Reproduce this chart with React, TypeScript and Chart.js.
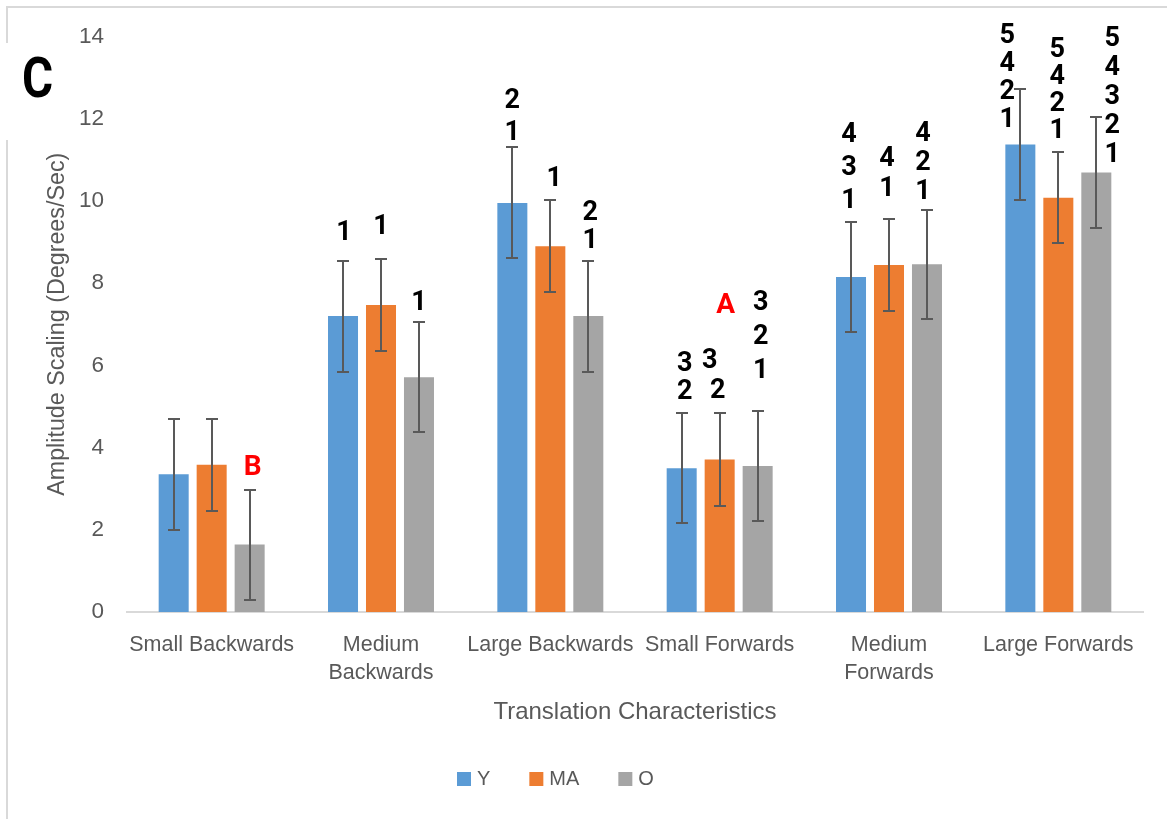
import React, { useEffect, useRef } from "react";
import { Chart, registerables } from "chart.js";

Chart.register(...registerables);

// ---------- data ----------
const categories: (string | string[])[] = [
  "Small Backwards",
  ["Medium", "Backwards"],
  "Large Backwards",
  "Small Forwards",
  ["Medium", "Forwards"],
  "Large Forwards",
];
const seriesNames = ["Y", "MA", "O"];
const yValues = [3.35, 7.2, 9.95, 3.5, 8.15, 11.37];
const maValues = [3.58, 7.47, 8.9, 3.71, 8.44, 10.08];
const oValues = [1.64, 5.71, 7.2, 3.55, 8.46, 10.69];
const yErrors = [1.35, 1.35, 1.35, 1.34, 1.34, 1.35];
const maErrors = [1.12, 1.12, 1.12, 1.12, 1.11, 1.11];
const oErrors = [1.34, 1.34, 1.35, 1.34, 1.33, 1.35];
const yAxisMin = 0;
const yAxisMax = 14;
const yAxisStep = 2;
const xAxisTitle = "Translation Characteristics";
const yAxisTitle = "Amplitude Scaling (Degrees/Sec)";
const panelLetter = "C";

// significance markers: category, series, lines (top to bottom), value of bottom line
const sigLabels = [
  { cat: 1, series: 0, lines: ["1"], base: 9.22, gap: 30, dx: 1 },
  { cat: 1, series: 1, lines: ["1"], base: 9.36, gap: 30, dx: 0 },
  { cat: 1, series: 2, lines: ["1"], base: 7.5, gap: 30, dx: 0 },
  { cat: 2, series: 0, lines: ["2", "1"], base: 11.65, gap: 32, dx: 0 },
  { cat: 2, series: 1, lines: ["1"], base: 10.53, gap: 30, dx: 4 },
  { cat: 2, series: 2, lines: ["2", "1"], base: 9.02, gap: 28, dx: 2 },
  { cat: 3, series: 0, lines: ["3", "2"], base: 5.34, gap: 28, dx: 3 },
  { cat: 3, series: 1, lines: ["3", "2"], base: 5.37, gap: 30, dx: -2, dxs: [-8, 0] },
  { cat: 3, series: 2, lines: ["3", "2", "1"], base: 5.85, gap: 34, dx: 3 },
  { cat: 4, series: 0, lines: ["4", "3", "1"], base: 9.99, gap: 33, dx: -2 },
  { cat: 4, series: 1, lines: ["4", "1"], base: 10.28, gap: 30, dx: -2 },
  { cat: 4, series: 2, lines: ["4", "2", "1"], base: 10.2, gap: 29, dx: -4 },
  { cat: 5, series: 0, lines: ["5", "4", "2", "1"], base: 11.97, gap: 28, dx: -13 },
  { cat: 5, series: 1, lines: ["5", "4", "2", "1"], base: 11.7, gap: 27, dx: -1 },
  { cat: 5, series: 2, lines: ["5", "4", "3", "2", "1"], base: 11.12, gap: 29, dx: 16 },
];
const letterLabels = [
  { cat: 0, series: 2, text: "B", value: 3.51, dx: 3 },
  { cat: 3, series: 1, text: "A", value: 7.45, dx: 6 },
];

const seriesValues = [yValues, maValues, oValues];
const seriesErrors = [yErrors, maErrors, oErrors];
const seriesColors = ["#5b9bd5", "#ed7d31", "#a5a5a5"];
const textGray = "#595959";
const FONT = "'Liberation Sans', Arial, sans-serif";

const overlayPlugin = {
  id: "overlay",
  afterDatasetsDraw(chart: any) {
    const ctx = chart.ctx as CanvasRenderingContext2D;
    const ys = chart.scales.y;
    // error bars
    seriesErrors.forEach((errs, di) => {
      const meta = chart.getDatasetMeta(di);
      meta.data.forEach((bar: any, i: number) => {
        const v = seriesValues[di][i];
        const e = errs[i];
        const x = Math.round(bar.x);
        const top = Math.round(ys.getPixelForValue(v + e));
        const bot = Math.round(ys.getPixelForValue(v - e));
        ctx.save();
        ctx.strokeStyle = textGray;
        ctx.lineWidth = 2;
        ctx.beginPath();
        ctx.moveTo(x, top);
        ctx.lineTo(x, bot);
        ctx.moveTo(x - 6, top);
        ctx.lineTo(x + 6, top);
        ctx.moveTo(x - 6, bot);
        ctx.lineTo(x + 6, bot);
        ctx.stroke();
        ctx.restore();
      });
    });
    // significance digits
    ctx.save();
    ctx.fillStyle = "#000";
    ctx.font = "bold 27px Roboto, 'DejaVu Sans', sans-serif";
    ctx.textAlign = "center";
    ctx.textBaseline = "middle";
    sigLabels.forEach((s: any) => {
      const bar = chart.getDatasetMeta(s.series).data[s.cat];
      const baseY = ys.getPixelForValue(s.base);
      const n = s.lines.length;
      s.lines.forEach((t: string, i: number) => {
        const idx = n - 1 - i;
        const x = bar.x + s.dx + (s.dxs ? s.dxs[i] : 0);
        const y = baseY - idx * s.gap;
        ctx.fillText(t, x, y);
      });
    });
    // red letters
    ctx.fillStyle = "#ff0000";
    ctx.font = "bold 28px Roboto, 'DejaVu Sans', sans-serif";
    letterLabels.forEach((l) => {
      const bar = chart.getDatasetMeta(l.series).data[l.cat];
      ctx.fillText(l.text, bar.x + l.dx, ys.getPixelForValue(l.value));
    });
    ctx.restore();
  },
  afterDraw(chart: any) {
    // legend
    const ctx = chart.ctx as CanvasRenderingContext2D;
    const area = chart.chartArea;
    ctx.save();
    ctx.font = `20px ${FONT}`;
    ctx.textBaseline = "middle";
    ctx.textAlign = "left";
    let x = area.left + 330;
    const yc = 779;
    seriesNames.forEach((name, i) => {
      ctx.fillStyle = seriesColors[i];
      ctx.fillRect(x, yc - 7, 14, 14);
      ctx.fillStyle = textGray;
      ctx.fillText(name, x + 20, yc);
      x += 20 + ctx.measureText(name).width + 39;
    });
    ctx.restore();
  },
};

export default function App() {
  const ref = useRef<HTMLCanvasElement>(null);
  useEffect(() => {
    const chart = new Chart(ref.current as HTMLCanvasElement, {
      type: "bar",
      data: {
        labels: categories,
        datasets: seriesNames.map((name, i) => ({
          label: name,
          data: seriesValues[i],
          backgroundColor: seriesColors[i],
          borderWidth: 0,
          categoryPercentage: 0.673,
          barPercentage: 0.79,
        })),
      },
      options: {
        responsive: false,
        animation: false,
        devicePixelRatio: 1,
        layout: { padding: { left: 30, right: 24, top: 33, bottom: 92 } },
        plugins: {
          legend: { display: false },
          tooltip: { enabled: false },
        },
        scales: {
          x: {
            grid: { display: false, drawTicks: false },
            border: { display: true, color: "#d9d9d9", width: 2 },
            ticks: {
              color: textGray,
              font: { family: FONT, size: 21.5, lineHeight: 1.3 },
              padding: 19,
              maxRotation: 0,
              autoSkip: false,
            },
            title: {
              display: true,
              text: xAxisTitle,
              color: textGray,
              font: { family: FONT, size: 24 },
              padding: { top: 0, bottom: 0 },
            },
            afterFit(scale: any) {
              scale.height = 115;
            },
          },
          y: {
            min: yAxisMin,
            max: yAxisMax,
            grid: { display: false, drawTicks: false },
            border: { display: false },
            ticks: {
              stepSize: yAxisStep,
              color: textGray,
              font: { family: FONT, size: 22.5 },
              padding: 23,
            },
            title: {
              display: true,
              text: yAxisTitle,
              color: textGray,
              font: { family: FONT, size: 23.3 },
              padding: { top: 14, bottom: 0 },
            },
            afterFit(scale: any) {
              scale.width = 97;
            },
          },
        },
      },
      plugins: [overlayPlugin],
    } as any);
    return () => chart.destroy();
  }, []);

  return (
    <div
      style={{
        position: "absolute",
        left: 0,
        top: 0,
        width: 1167,
        height: 819,
        overflow: "hidden",
        background: "#fff",
      }}
    >
      <div
        style={{
          position: "absolute",
          left: 6,
          top: 6,
          width: 1161,
          height: 813,
          borderTop: "2px solid #d9d9d9",
          borderLeft: "2px solid #d9d9d9",
          boxSizing: "border-box",
        }}
      />
      <div
        style={{
          position: "absolute",
          left: 0,
          top: 43,
          width: 72,
          height: 97,
          background: "#fff",
        }}
      >
        <span
          style={{
            position: "absolute",
            left: 22,
            top: 7,
            font: "bold 56px Roboto, 'DejaVu Sans', sans-serif",
            lineHeight: 1,
            color: "#000",
            transform: "scaleX(0.85)",
            transformOrigin: "left center",
            whiteSpace: "nowrap",
          }}
        >
          {panelLetter}
        </span>
      </div>
      <canvas
        ref={ref}
        width={1167}
        height={819}
        style={{ position: "absolute", left: 0, top: 0, width: 1167, height: 819 }}
      />
    </div>
  );
}
